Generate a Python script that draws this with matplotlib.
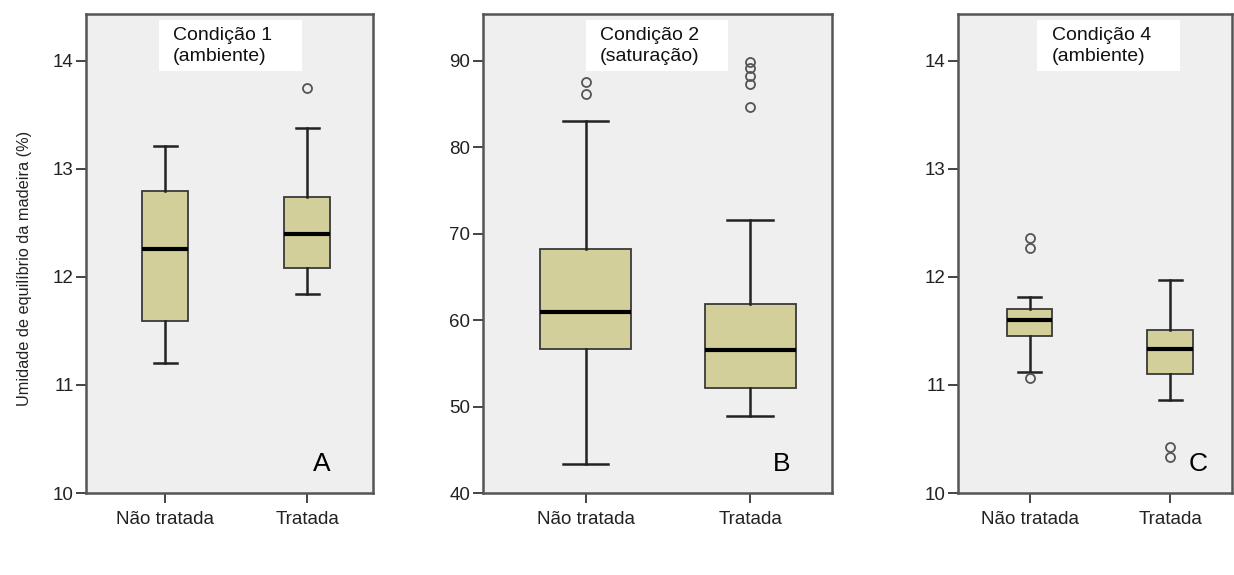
import matplotlib.pyplot as plt
from matplotlib.patches import Rectangle

plt.rcParams['font.family'] = ['Liberation Sans', 'DejaVu Sans']

# Valores (estatísticas de cada caixa)
grupos = ['Não tratada', 'Tratada']

# Condição 1 (ambiente)
c1_q1 = [11.59, 12.08]
c1_med = [12.26, 12.40]
c1_q3 = [12.79, 12.74]
c1_wlo = [11.20, 11.84]
c1_whi = [13.21, 13.38]
c1_out = [[], [13.75]]

# Condição 2 (saturação)
c2_q1 = [56.7, 52.15]
c2_med = [60.9, 56.5]
c2_q3 = [68.2, 61.9]
c2_wlo = [43.3, 48.95]
c2_whi = [83.0, 71.6]
c2_out = [[86.2, 87.5], [84.7, 87.3, 88.2, 89.1, 89.9]]

# Condição 4 (ambiente)
c4_q1 = [11.45, 11.10]
c4_med = [11.60, 11.33]
c4_q3 = [11.70, 11.51]
c4_wlo = [11.12, 10.86]
c4_whi = [11.81, 11.97]
c4_out = [[11.06, 12.27, 12.36], [10.33, 10.43]]

titulos = ['Condição 1\n(ambiente)', 'Condição 2\n(saturação)', 'Condição 4\n(ambiente)']
letras = ['A', 'B', 'C']
yticks = [[10, 11, 12, 13, 14], [40, 50, 60, 70, 80, 90], [10, 11, 12, 13, 14]]


def _stats(q1, med, q3, wlo, whi, out):
    return [dict(q1=q1[i], med=med[i], q3=q3[i], whislo=wlo[i], whishi=whi[i],
                 fliers=out[i], label=grupos[i]) for i in range(len(grupos))]


dados = [
    _stats(c1_q1, c1_med, c1_q3, c1_wlo, c1_whi, c1_out),
    _stats(c2_q1, c2_med, c2_q3, c2_wlo, c2_whi, c2_out),
    _stats(c4_q1, c4_med, c4_q3, c4_wlo, c4_whi, c4_out),
]

# layout em fração da figura
posicoes = [[0.0697, 0.1426, 0.2326, 0.833],
            [0.3912, 0.1426, 0.2828, 0.833],
            [0.7766, 0.1426, 0.2220, 0.833]]
xlims = [(0.444, 2.464), (0.375, 2.495), (0.494, 2.44)]
ylims = [(10, 14.43), (40, 95.4), (10, 14.43)]
larguras = [0.324, 0.553, 0.325]
caixa_titulo = [(0.253, 0.498, 0.303), (0.295, 0.408, 0.336), (0.287, 0.524, 0.341)]
pos_letra = [0.822, 0.857, 0.875]

fig = plt.figure(figsize=(12.34, 5.75), dpi=100)

for k in range(3):
    ax = fig.add_axes(posicoes[k])
    ax.set_facecolor('#efefef')
    ax.bxp(dados[k], positions=[1, 2], widths=larguras[k], patch_artist=True,
           showfliers=True,
           boxprops=dict(facecolor='#d3cf9a', edgecolor='#3a3a3a', linewidth=1.3),
           medianprops=dict(color='black', linewidth=3),
           whiskerprops=dict(color='#222222', linewidth=1.8),
           capprops=dict(color='#222222', linewidth=1.8),
           flierprops=dict(marker='o', markerfacecolor='none', markeredgecolor='#555555',
                           markersize=6.5, markeredgewidth=1.3))
    ax.set_xlim(*xlims[k])
    ax.set_ylim(*ylims[k])
    ax.set_yticks(yticks[k])
    ax.set_xticks([1, 2])
    ax.set_xticklabels(grupos)
    ax.tick_params(axis='both', labelsize=13.5, direction='out', length=7,
                   width=1.4, color='#444444', labelcolor='#222222')
    ax.tick_params(axis='x', pad=6)
    ax.tick_params(axis='y', pad=2)
    for s in ax.spines.values():
        s.set_color('#555555')
        s.set_linewidth(1.8)

    x0, w, xt = caixa_titulo[k]
    ax.add_patch(Rectangle((x0, 0.882), w, 0.105, transform=ax.transAxes,
                           facecolor='white', edgecolor='none', zorder=3))
    ax.text(xt, 0.933, titulos[k], transform=ax.transAxes, ha='left', va='center',
            fontsize=14, color='#111111', linespacing=1.3, zorder=4)
    ax.text(pos_letra[k], 0.045, letras[k], transform=ax.transAxes, ha='center',
            va='baseline', fontsize=19, color='black')

fig.text(0.02, 0.534, 'Umidade de equilíbrio da madeira (%)', rotation=90,
         ha='center', va='center', fontsize=11.7, color='#222222')

fig.savefig('out.png', dpi=100)
